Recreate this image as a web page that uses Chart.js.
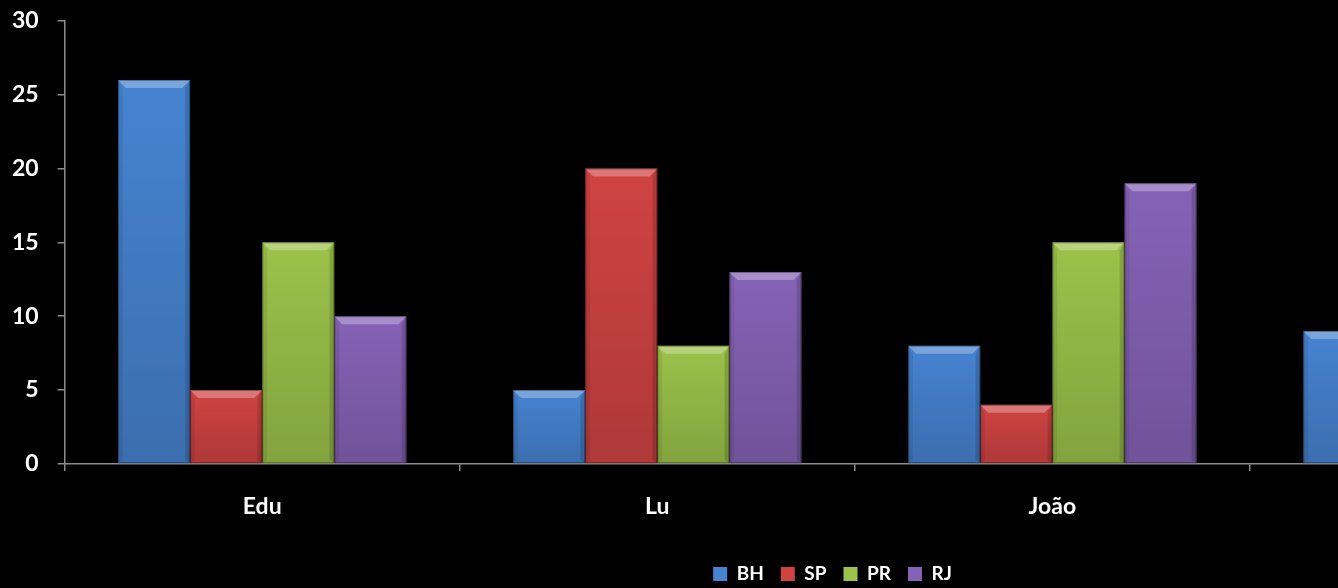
<!DOCTYPE html>
<html>
<head>
<meta charset="utf-8">
<script src="https://cdn.jsdelivr.net/npm/chart.js@4"></script>
<style>
html, body { margin: 0; padding: 0; background: #000; overflow: hidden; }
#wrap { width: 1668px; height: 600px; margin-top: -12px; }
</style>
</head>
<body>
<div id="wrap"><canvas id="grafico" width="1668" height="600"></canvas></div>
<script>
// dados (a quarta categoria está cortada na imagem)
const nomes = ['Edu', 'Lu', 'João', ''];
const valoresBH = [26, 5, 8, 9];
const valoresSP = [5, 20, 4, null];
const valoresPR = [15, 8, 15, null];
const valoresRJ = [10, 13, 19, null];
const ticksY = [0, 5, 10, 15, 20, 25, 30];

const fonte = { family: 'Lato', size: 23, weight: 'bold' };
const fonteLegenda = { family: 'Lato', size: 19, weight: 'bold' };

// efeito de chanfro nas barras, usando a geometria calculada pelo Chart.js
const chanfro = {
    id: 'chanfro',
    afterDatasetsDraw(chart) {
        const ctx = chart.ctx;
        chart.data.datasets.forEach((ds, i) => {
            const meta = chart.getDatasetMeta(i);
            meta.data.forEach(bar => {
                const p = bar.getProps(['x', 'y', 'base', 'width'], true);
                if (!isFinite(p.y) || !isFinite(p.base)) return;
                const l = p.x - p.width / 2, r = p.x + p.width / 2;
                const t = Math.min(p.y, p.base), b = Math.max(p.y, p.base);
                const s = Math.min(8, (b - t) / 2, p.width / 2);
                ctx.save();
                // escurece para baixo
                const g = ctx.createLinearGradient(0, t, 0, b);
                g.addColorStop(0, 'rgba(0,0,0,0)');
                g.addColorStop(1, 'rgba(0,0,0,0.16)');
                ctx.fillStyle = g;
                ctx.fillRect(l, t, r - l, b - t);
                // topo claro
                ctx.beginPath();
                ctx.moveTo(l, t); ctx.lineTo(r, t); ctx.lineTo(r - s, t + s); ctx.lineTo(l + s, t + s);
                ctx.closePath();
                ctx.fillStyle = 'rgba(255,255,255,0.28)';
                ctx.fill();
                // lado esquerdo
                ctx.beginPath();
                ctx.moveTo(l, t); ctx.lineTo(l + s * 0.6, t + s); ctx.lineTo(l + s * 0.6, b - s * 0.4); ctx.lineTo(l, b);
                ctx.closePath();
                ctx.fillStyle = 'rgba(0,0,0,0.07)';
                ctx.fill();
                // lado direito
                ctx.beginPath();
                ctx.moveTo(r, t); ctx.lineTo(r - s * 0.6, t + s); ctx.lineTo(r - s * 0.6, b - s * 0.4); ctx.lineTo(r, b);
                ctx.closePath();
                ctx.fillStyle = 'rgba(0,0,0,0.14)';
                ctx.fill();
                // contorno
                ctx.strokeStyle = 'rgba(0,0,0,0.35)';
                ctx.lineWidth = 1;
                ctx.strokeRect(l + 0.5, t + 0.5, r - l - 1, b - t - 1);
                ctx.restore();
            });
        });
    }
};

// a legenda original fica centrada na largura toda do gráfico
const moveLegenda = {
    id: 'moveLegenda',
    afterLayout(chart) {
        chart.legend.left += 13.5;
        chart.legend.right += 13.5;
    }
};

const ctx = document.getElementById('grafico').getContext('2d');

new Chart(ctx, {
    type: 'bar',
    data: {
        labels: nomes,
        datasets: [
            { label: 'BH', data: valoresBH, backgroundColor: '#4683d0' },
            { label: 'SP', data: valoresSP, backgroundColor: '#d04343' },
            { label: 'PR', data: valoresPR, backgroundColor: '#9bc24a' },
            { label: 'RJ', data: valoresRJ, backgroundColor: '#8662b6' }
        ]
    },
    options: {
        responsive: false,
        animation: false,
        layout: { padding: { top: 8, left: -7, right: 23, bottom: -5.5 } },
        datasets: {
            bar: { barPercentage: 1, categoryPercentage: 0.73, borderWidth: 0 }
        },
        plugins: {
            legend: {
                position: 'bottom',
                labels: {
                    color: '#ffffff',
                    font: fonteLegenda,
                    boxWidth: 14,
                    boxHeight: 14,
                    padding: 17
                }
            },
            tooltip: { enabled: false }
        },
        scales: {
            x: {
                afterFit: axis => { axis.height += 5; },
                grid: {
                    display: true,
                    drawOnChartArea: false,
                    drawTicks: true,
                    tickLength: 7,
                    color: '#8c8c8c',
                    lineWidth: 1.5
                },
                border: { color: '#8c8c8c', width: 1.5 },
                ticks: { color: '#ffffff', font: fonte, padding: 22, maxRotation: 0 }
            },
            y: {
                min: 0,
                max: 30,
                afterBuildTicks: axis => { axis.ticks = ticksY.map(v => ({ value: v })); },
                grid: {
                    display: true,
                    drawOnChartArea: false,
                    drawTicks: true,
                    tickLength: 7,
                    color: '#8c8c8c',
                    lineWidth: 1.5
                },
                border: { color: '#8c8c8c', width: 1.5 },
                ticks: { color: '#ffffff', font: fonte, padding: 19 }
            }
        }
    },
    plugins: [chanfro, moveLegenda]
});
</script>
</body>
</html>
